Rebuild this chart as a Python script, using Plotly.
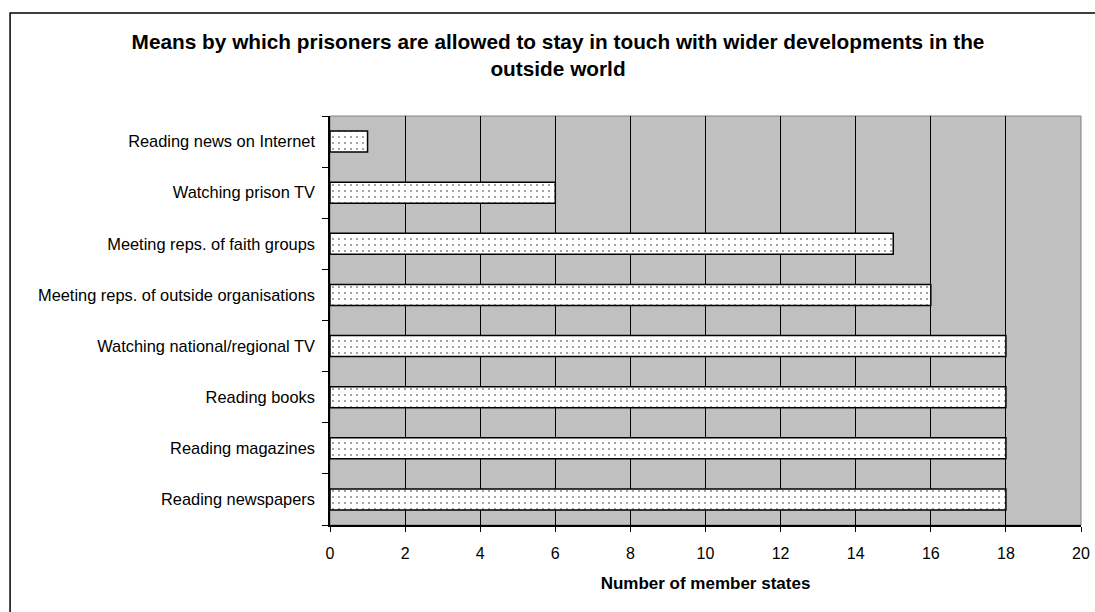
import plotly.graph_objects as go

# data, bottom to top as drawn
categories = [
    "Reading newspapers",
    "Reading magazines",
    "Reading books",
    "Watching national/regional TV",
    "Meeting reps. of outside organisations",
    "Meeting reps. of faith groups",
    "Watching prison TV",
    "Reading news on Internet",
]
member_states = [18, 18, 18, 18, 16, 15, 6, 1]
x_ticks = list(range(0, 21, 2))

FONT = "Liberation Sans, Arial, sans-serif"

fig = go.Figure()

fig.add_trace(go.Bar(
    x=member_states,
    y=categories,
    orientation="h",
    width=0.41,
    marker=dict(
        color="white",
        line=dict(color="black", width=1.5),
        pattern=dict(shape=".", fgcolor="black", bgcolor="white",
                     size=6, solidity=0.08),
    ),
    hoverinfo="x+y",
))

# plot area frame (gray) and outer chart border
fig.add_shape(type="rect", xref="paper", yref="paper", x0=0, x1=1, y0=0, y1=1,
              line=dict(color="#808080", width=1), layer="below")
fig.add_shape(type="rect", xref="paper", yref="paper",
              x0=-0.426, x1=1.03, y0=-0.23, y1=1.252,
              line=dict(color="black", width=1.5))

fig.update_layout(
    width=1095,
    height=612,
    margin=dict(l=330, r=14, t=116, b=87, autoexpand=False),
    paper_bgcolor="white",
    plot_bgcolor="#C0C0C0",
    showlegend=False,
    font=dict(family=FONT, size=16, color="black"),
    title=dict(
        text="<b>Means by which prisoners are allowed to stay in touch with wider developments in the<br>outside world</b>",
        x=0.5096, xanchor="center", xref="container",
        y=0.92, yanchor="top", yref="container",
        font=dict(family=FONT, size=20.8, color="black"),
    ),
    xaxis=dict(
        range=[0, 20],
        tickvals=x_ticks,
        automargin=False,
        showgrid=True,
        gridcolor="black",
        gridwidth=1,
        zeroline=False,
        showline=True,
        linecolor="black",
        linewidth=1.5,
        ticks="outside",
        ticklen=5,
        tickcolor="black",
        ticklabelstandoff=8,
        title=dict(text="<b>Number of member states</b>", standoff=16,
                   font=dict(family=FONT, size=17)),
    ),
    yaxis=dict(
        type="category",
        categoryorder="array",
        categoryarray=categories,
        automargin=False,
        showgrid=False,
        showline=True,
        linecolor="black",
        linewidth=1.5,
        ticks="outside",
        tickson="boundaries",
        ticklen=6,
        tickcolor="black",
        ticklabelstandoff=10,
        tickfont=dict(size=16.4),
    ),
)

# drop the default page margin so the 1095x612 figure fills the window exactly
fig.write_html("out.html", config={"displayModeBar": False},
               post_script="document.body.style.margin='0';")
